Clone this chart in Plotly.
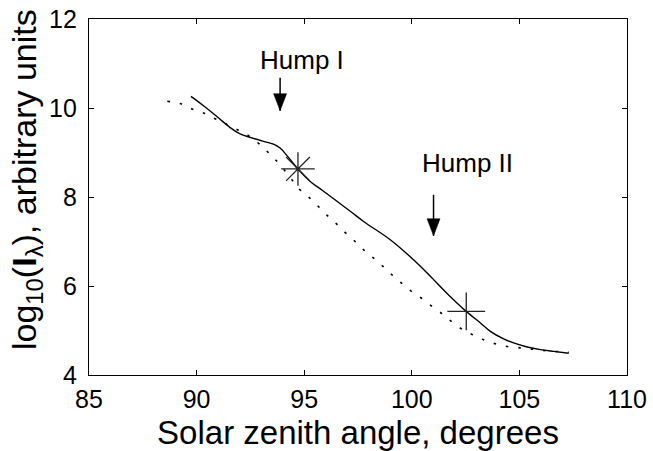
import plotly.graph_objects as go

# Solid curve: log10 of intensity vs solar zenith angle
solid_sza = [89.74, 90.32, 90.94, 91.56, 92.02, 92.49, 93.11, 93.57, 93.88, 94.20,
             94.71, 95.28, 95.90, 97.14, 97.76, 99.00, 100.08, 100.86, 101.71,
             102.53, 103.19, 103.65, 104.27, 104.73, 105.36, 105.98, 106.60, 107.29]
solid_log = [10.26, 10.05, 9.81, 9.56, 9.42, 9.34, 9.25, 9.19, 9.10, 8.93,
             8.63, 8.35, 8.13, 7.68, 7.45, 7.04, 6.59, 6.22, 5.80,
             5.43, 5.17, 4.98, 4.81, 4.72, 4.63, 4.57, 4.53, 4.49]

# Dotted curve
dotted_sza = [88.64, 89.23, 89.78, 90.32, 90.86, 91.37, 91.90, 92.41, 92.87, 93.29,
              93.70, 94.43, 94.81, 95.25, 95.67, 96.08, 96.49, 96.91, 97.37, 97.79,
              98.22, 98.66, 99.08, 99.51, 99.98, 100.44, 100.94, 101.40, 101.82,
              102.33, 102.80, 103.34, 103.88, 104.43, 105.05, 105.59, 106.13,
              106.67, 107.29]
dotted_log = [10.15, 10.10, 9.98, 9.89, 9.76, 9.64, 9.51, 9.38, 9.21, 9.02,
              8.82, 8.39, 8.16, 7.98, 7.78, 7.58, 7.40, 7.20, 7.00, 6.80,
              6.63, 6.44, 6.25, 6.07, 5.88, 5.73, 5.54, 5.38, 5.21,
              5.03, 4.91, 4.79, 4.70, 4.64, 4.61, 4.58, 4.55,
              4.53, 4.51]

# Hump markers on the solid curve
star_pt = (94.71, 8.63)
plus_pt = (102.53, 5.43)

# Hump labels and arrows (x, arrow top, arrow tip, label y)
hump_names = ["Hump I", "Hump II"]
hump_label_x = [94.91, 102.58]
hump_label_y = [11.08, 8.77]
hump_arrow_x = [93.88, 101.01]
hump_arrow_top = [10.68, 8.05]
hump_arrow_tip = [9.94, 7.13]

x_ticks = [85, 90, 95, 100, 105, 110]
y_ticks = [4, 6, 8, 10, 12]

FONT = "Liberation Sans, Arial, Helvetica, sans-serif"
W, H = 653, 451
ML, MR, MT, MB = 89, 26, 19, 76

fig = go.Figure()
fig.add_trace(go.Scatter(x=dotted_sza, y=dotted_log, mode="lines",
                         line=dict(color="black", width=1.6, dash="2.5px,10px", shape="spline"),
                         hoverinfo="skip"))
fig.add_trace(go.Scatter(x=solid_sza, y=solid_log, mode="lines",
                         line=dict(color="black", width=1.4, shape="spline"),
                         hoverinfo="skip"))
fig.add_trace(go.Scatter(x=[star_pt[0]], y=[star_pt[1]], mode="markers",
                         marker=dict(symbol="asterisk-open", size=28, color="#222",
                                     line=dict(color="#222", width=1.3))))
fig.add_trace(go.Scatter(x=[plus_pt[0]], y=[plus_pt[1]], mode="markers",
                         marker=dict(symbol="cross-thin-open", size=27, color="#222",
                                     line=dict(color="#222", width=1.3))))

for name, lx, ly, axx, atop, atip in zip(hump_names, hump_label_x, hump_label_y,
                                         hump_arrow_x, hump_arrow_top, hump_arrow_tip):
    fig.add_annotation(x=lx, y=ly, text=name, showarrow=False,
                       font=dict(family=FONT, size=26, color="black"),
                       xanchor="center", yanchor="middle")
    # shaft
    fig.add_shape(type="line", x0=axx, x1=axx, y0=atop, y1=atip,
                  line=dict(color="black", width=1.5))
    # arrowhead, drawn in pixels around the tip
    fig.add_shape(type="path", xsizemode="pixel", ysizemode="pixel",
                  xanchor=axx, yanchor=atip,
                  path="M -6.5 17 L 6.5 17 L 0 0 Z",
                  fillcolor="black", line=dict(color="black", width=0.5))

# y-axis title placed as a rotated annotation left of the tick labels
plot_w = W - ML - MR
plot_h = H - MT - MB
fig.add_annotation(text="log<sub>10</sub>(<b>I</b><sub>λ</sub>), arbitrary units",
                   xref="paper", yref="paper",
                   x=(26 - ML) / plot_w, y=(H - MB - 180) / plot_h,
                   xanchor="center", yanchor="middle", textangle=-90, showarrow=False,
                   font=dict(family=FONT, size=34, color="black"))

axis_common = dict(showline=True, linecolor="black", linewidth=1.4, mirror="ticks",
                   ticks="inside", ticklen=5, tickwidth=1.2, tickcolor="black",
                   showgrid=False, zeroline=False, automargin=False,
                   tickfont=dict(family=FONT, size=25, color="black"))

fig.update_xaxes(range=[85, 110], tickvals=x_ticks, ticklabelstandoff=2,
                 title=dict(text="Solar zenith angle, degrees",
                            font=dict(family=FONT, size=33, color="black"), standoff=8),
                 **axis_common)
fig.update_yaxes(range=[4, 12], tickvals=y_ticks, ticklabelstandoff=6,
                 **axis_common)

fig.update_layout(width=W, height=H, showlegend=False,
                  margin=dict(l=ML, r=MR, t=MT, b=MB),
                  paper_bgcolor="white", plot_bgcolor="white")

fig.write_html("out.html")
